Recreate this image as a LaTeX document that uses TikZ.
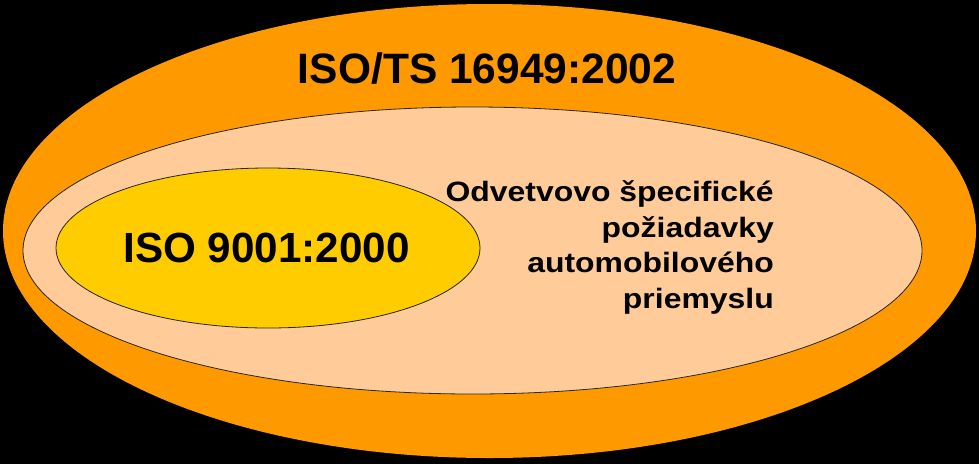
\documentclass[tikz,border=0pt]{standalone}
\usepackage{fontspec}
\setmainfont{Liberation Sans}
\usetikzlibrary{shapes.geometric}
\usepackage{xcolor}
\definecolor{tsorange}{HTML}{FF9900}
\definecolor{sectorpeach}{HTML}{FFCC99}
\definecolor{qmsyellow}{HTML}{FFCC00}

\begin{document}
\begin{tikzpicture}[x=1pt,y=-1pt]
			\tikzset{oval/.style = {shape=ellipse,draw=black!85,line width=0.8pt,inner sep=0pt}}
			\tikzset{isotext/.style = {font=\bfseries,inner sep=0pt}}
			% background
			\fill[black] (0,0) rectangle (979,464);
			% ellipses
			\node[oval,draw=none,fill=tsorange,minimum width=973pt,minimum height=454pt] (ts) at (489.5,231) {};
			\node[oval,fill=sectorpeach,minimum width=899pt,minimum height=287pt] (sector) at (472.5,250.5) {};
			\node[oval,fill=qmsyellow,minimum width=424pt,minimum height=160pt] (qms) at (268,248) {};
			
			% texts
			\node[isotext,anchor=base,font=\bfseries\fontsize{42.5}{50}\selectfont] (tstext) at (487,83) {ISO/TS 16949:2002};
			\node[isotext,anchor=base,font=\bfseries\fontsize{42.2}{50}\selectfont] (qmstext) at (266.5,262) {ISO 9001:2000};
			\node[isotext,anchor=base east,align=right,xscale=1.14,font=\bfseries\fontsize{28}{35.5}\selectfont] (reqtext) at (774,308)
				{Odvetvovo špecifické\\požiadavky\\automobilového\\priemyslu};
\end{tikzpicture}
\end{document}
